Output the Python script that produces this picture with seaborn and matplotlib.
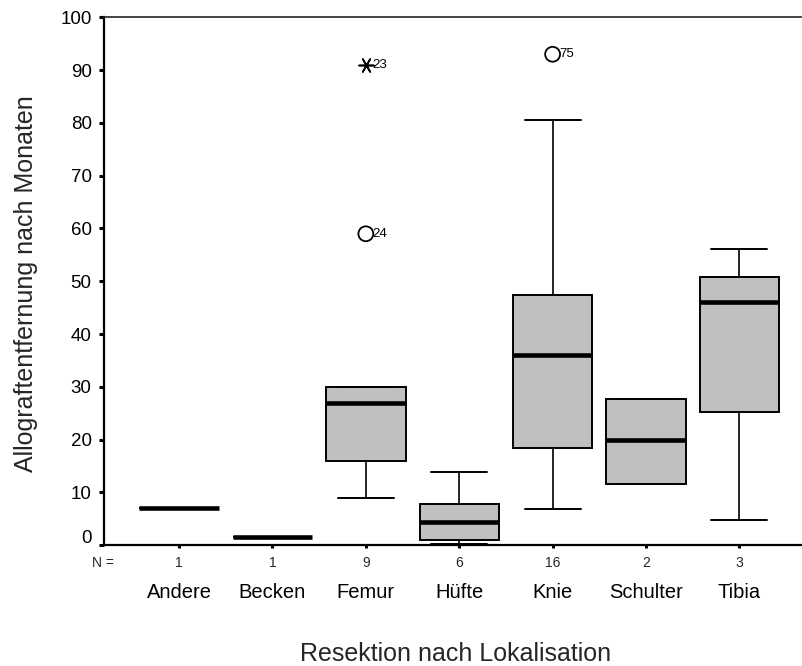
import matplotlib
matplotlib.use("Agg")
import numpy as np
import pandas as pd
import matplotlib.pyplot as plt
from matplotlib import transforms
import seaborn as sns

# ---------------- data ----------------
categories = ["Andere", "Becken", "Femur", "Hüfte", "Knie", "Schulter", "Tibia"]
n_cases = [1, 1, 9, 6, 16, 2, 3]
whisker_low = [7.0, 1.5, 9.0, 0.3, 6.9, 11.7, 4.8]
quartile_1 = [7.0, 1.5, 16.0, 1.0, 18.4, 11.7, 25.3]
median = [7.0, 1.5, 26.9, 4.4, 36.1, 19.9, 46.1]
quartile_3 = [7.0, 1.5, 29.9, 7.9, 47.4, 27.8, 50.9]
whisker_high = [7.0, 1.5, 29.9, 13.9, 80.5, 27.8, 56.1]

outlier_category = ["Femur", "Femur", "Knie"]
outlier_value = [59.0, 91.0, 93.0]
outlier_case = ["24", "23", "75"]
outlier_type = ["outlier", "extreme", "outlier"]

y_ticks = [0, 10, 20, 30, 40, 50, 60, 70, 80, 90, 100]
x_title = "Resektion nach Lokalisation"
y_title = "Allograftentfernung nach Monaten"
n_prefix = "N ="

# long-form table: the five-number summary of each group
rows = []
for cat, lo, q1, md, q3, hi in zip(categories, whisker_low, quartile_1, median,
                                   quartile_3, whisker_high):
    for v in (lo, q1, md, q3, hi):
        rows.append({"Lokalisation": cat, "Monate": v})
df = pd.DataFrame(rows)

# ---------------- style ----------------
sns.set_style("white")
plt.rcParams["font.family"] = ["Liberation Sans", "DejaVu Sans"]

fig = plt.figure(figsize=(8.02, 6.66), dpi=100, facecolor="white")
ax = fig.add_axes([104 / 802, 1 - 545.3 / 666, 697 / 802, 528 / 666])

sns.boxplot(
    data=df, x="Lokalisation", y="Monate", order=categories, ax=ax,
    width=0.85, color="#c0c0c0", saturation=1, linecolor="black",
    linewidth=1.4, whis=1.5, showfliers=False, capwidths=0.6,
    medianprops=dict(linewidth=3.3, color="black"),
    whiskerprops=dict(linewidth=1.2, color="black"),
    capprops=dict(linewidth=1.4, color="black"),
)

# outliers (circles) and extremes (asterisks) with case numbers
for cat, val, case, kind in zip(outlier_category, outlier_value, outlier_case, outlier_type):
    xpos = categories.index(cat)
    if kind == "extreme":
        ax.scatter([xpos], [val], marker=(6, 2, 90), s=110, color="black",
                   linewidths=1.2, zorder=5, clip_on=False)
    else:
        ax.scatter([xpos], [val], marker="o", s=115, facecolors="none",
                   edgecolors="black", linewidths=1.3, zorder=5, clip_on=False)
    ax.annotate(case, (xpos, val), xytext=(5, 0), textcoords="offset points",
                ha="left", va="center", fontsize=9.5, color="black")

# axes
ax.set_xlim(-0.804, 6.66)
ax.set_ylim(0, 100)
ax.set_yticks(y_ticks)
ax.set_yticklabels([str(t) for t in y_ticks])
ax.set_xticks(range(len(categories)))
ax.set_xticklabels(categories)

for side in ("left", "bottom"):
    ax.spines[side].set_linewidth(1.6)
    ax.spines[side].set_color("black")
ax.spines["top"].set_linewidth(1.2)
ax.spines["top"].set_color("#222222")
ax.spines["right"].set_visible(False)

ax.tick_params(axis="y", direction="out", length=3.6, width=2.2, labelsize=13.5,
               pad=5.3, colors="black", left=True)
ax.tick_params(axis="x", direction="out", length=2.2, width=2.2, labelsize=14.5,
               pad=32.0, colors="black", bottom=True)
for lab in ax.get_xticklabels():
    lab.set_va("center")

# SPSS lifts the "0" label off the corner
zero_label = ax.yaxis.get_major_ticks()[0].label1
zero_label.set_transform(zero_label.get_transform() +
                         transforms.ScaledTranslation(0, 6 / 72, fig.dpi_scale_trans))

# N row
trans = transforms.blended_transform_factory(ax.transData, ax.transAxes)
n_y = -18.0 / 528
for i, n in enumerate(n_cases):
    ax.text(i, n_y, str(n), transform=trans, ha="center", va="center", fontsize=10)
ax.text(-0.0015, n_y, n_prefix, transform=ax.transAxes, ha="center", va="center",
        fontsize=10)

ax.set_xlabel(x_title, fontsize=18, va="center")
ax.xaxis.set_label_coords(0.505, -0.206)
ax.set_ylabel(y_title, fontsize=18, va="center", ha="center")
ax.yaxis.set_label_coords(-0.112, 0.495)

fig.savefig("out.png", dpi=100, facecolor="white")
